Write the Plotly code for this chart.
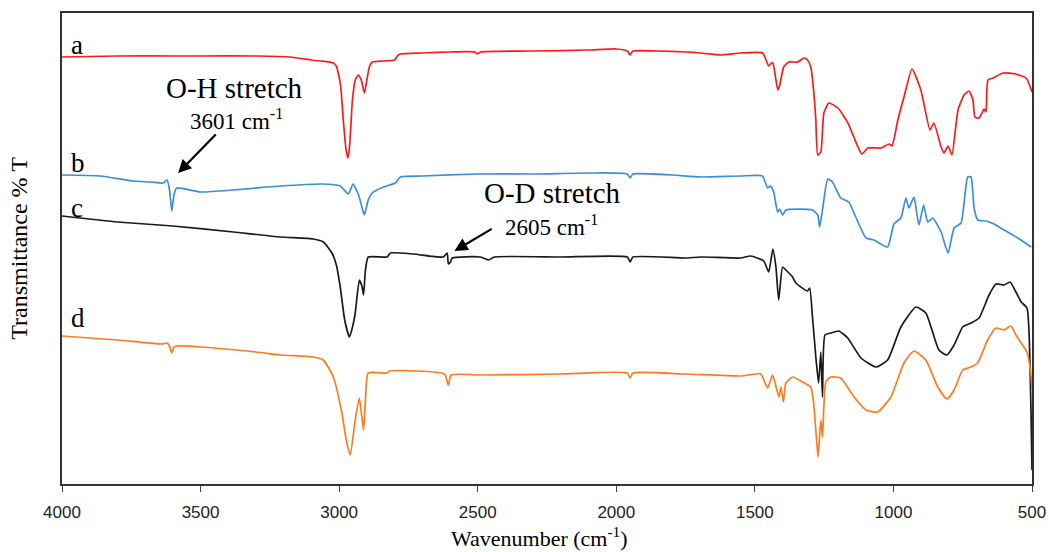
import plotly.graph_objects as go

# ---- data (wavenumber in cm^-1, transmittance in arbitrary offset units) ----
wn_a = [4000,3800,3600,3500,3300,3176,3100,3068,3021,3010,2995,2985,2975,2968,2962,2952,2942,2931,2920,2909,2900,2890,2880,2840,2800,2790,2779,2700,2600,2510,2501,2490,2300,2100,2000,1960,1950,1940,1850,1750,1695,1623,1551,1472,1450,1440,1435,1425,1417,1410,1396,1377,1345,1323,1310,1298,1285,1280,1273,1262,1251,1233,1200,1164,1143,1114,1092,1045,1016,1005,984,960,933,901,868,854,828,818,803,789,767,745,727,713,706,691,673,666,659,641,604,558,521,500]
t_a = [427,428,428,428,428,427,424,423,421,418,399,364,334,326,339,384,404,409,404,391,404,418,422,423,424,428,430,431,432,432,430,432,433,434,435,433,429,433,433,432,431,429,431,431,418,421,421,406,394,399,417,422,422,426,424,417,384,364,329,332,371,381,376,361,347,330,336,336,340,338,364,389,415,394,354,361,337,331,338,329,374,389,393,384,367,366,375,372,404,406,411,410,406,392]

wn_b = [4000,3863,3744,3680,3635,3621,3612,3604,3596,3586,3501,3382,3260,3212,3062,2996,2967,2950,2930,2915,2909,2895,2881,2840,2797,2779,2700,2502,2300,2100,1960,1950,1940,1800,1695,1551,1473,1454,1443,1432,1418,1410,1400,1388,1292,1273,1266,1256,1237,1220,1190,1161,1136,1099,1070,1021,998,973,955,944,926,908,891,876,858,828,803,781,756,742,732,720,709,696,666,637,601,551,503]
t_b = [309,308,303,302,301,304,294,273,289,296,292,294,297,298,300,298,290,300,289,274,269,284,291,297,301,307,308,310,310,311,310,306,310,309,307,308,308,296,298,292,272,275,269,274,274,269,257,274,305,302,286,282,267,246,244,237,260,266,286,276,287,259,279,262,266,252,231,256,261,289,307,307,276,264,263,260,254,246,237]

wn_c = [4000,3800,3600,3382,3212,3093,3057,3026,3010,2996,2980,2963,2950,2942,2927,2917,2912,2905,2895,2827,2815,2732,2624,2610,2606,2598,2592,2490,2461,2440,2200,1960,1950,1940,1750,1695,1551,1515,1468,1450,1435,1424,1414,1400,1388,1364,1352,1310,1302,1292,1280,1270,1262,1256,1247,1226,1197,1165,1117,1063,1021,973,919,883,836,807,781,750,720,691,655,630,601,579,558,539,518,511,503,500]
t_c = [268,262,258,252,247,245,242,231,219,197,164,147,159,171,204,197,189,214,227,227,231,230,227,231,220,222,226,227,224,227,227,227,222,227,226,227,226,228,223,212,235,217,184,217,214,207,201,193,196,167,127,101,132,87,149,151,153,146,126,117,124,157,177,171,134,129,139,157,161,166,189,200,199,202,192,182,176,154,64,14]

wn_d = [4000,3800,3640,3621,3612,3604,3596,3586,3500,3300,3212,3093,3057,3021,2990,2975,2960,2942,2927,2912,2905,2895,2827,2819,2620,2606,2596,2490,2200,1960,1950,1940,1750,1551,1479,1454,1436,1428,1413,1406,1397,1388,1364,1328,1298,1288,1280,1272,1262,1256,1244,1226,1190,1142,1099,1057,1009,962,926,883,840,807,781,750,720,696,660,630,601,576,558,539,518,503,500]
t_d = [148,144,140,141,138,131,137,138,137,132,129,127,124,107,71,45,29,64,86,54,84,111,111,113,110,99,109,109,110,111,106,111,110,108,110,96,109,102,87,97,82,101,107,102,97,81,54,27,64,47,102,107,106,87,74,72,87,121,133,124,97,85,94,114,117,121,144,156,154,158,149,141,132,107,94]

series_labels = ["a", "b", "c", "d"]
series_colors = ["#ff1a1a", "#3b8fd9", "#1a1a1a", "#ff7a1f"]
x_ticks = [4000, 3500, 3000, 2500, 2000, 1500, 1000, 500]

fig = go.Figure()
for wn, t, name, col in zip([wn_a, wn_b, wn_c, wn_d], [t_a, t_b, t_c, t_d], series_labels, series_colors):
    fig.add_trace(go.Scatter(x=wn, y=t, mode="lines", name=name,
                             line=dict(color=col, width=1.7, shape="spline", smoothing=0.5),
                             showlegend=False, hoverinfo="skip"))

serif = "Liberation Serif, Times New Roman, serif"

# series letters
label_pos = [(3975, 439), (3975, 321), (3975, 276), (3975, 166)]
for (lx, ly), lab in zip(label_pos, series_labels):
    fig.add_annotation(x=lx, y=ly, text=lab, showarrow=False, xanchor="left", yanchor="middle",
                       font=dict(family=serif, size=27, color="black"))

# peak annotations
fig.add_annotation(x=3379, y=396, text="O-H stretch", showarrow=False,
                   font=dict(family=serif, size=29, color="black"))
fig.add_annotation(x=3370, y=365, text="3601 cm<sup>-1</sup>", showarrow=False,
                   font=dict(family=serif, size=23, color="black"))
fig.add_annotation(x=3581, y=311, ax=3440, ay=351, axref="x", ayref="y", text="",
                   showarrow=True, arrowhead=2, arrowsize=1.2, arrowwidth=2.2, arrowcolor="black")

fig.add_annotation(x=2230, y=291, text="O-D stretch", showarrow=False,
                   font=dict(family=serif, size=29, color="black"))
fig.add_annotation(x=2234, y=259, text="2605 cm<sup>-1</sup>", showarrow=False,
                   font=dict(family=serif, size=23, color="black"))
fig.add_annotation(x=2584, y=233, ax=2444, ay=256, axref="x", ayref="y", text="",
                   showarrow=True, arrowhead=2, arrowsize=1.2, arrowwidth=2.2, arrowcolor="black")

# x-axis title as a free annotation so it sits just under the tick labels
fig.add_annotation(x=0.492, y=-0.1444, xref="paper", yref="paper", xanchor="center", yanchor="bottom",
                   text="Wavenumber (cm<sup>-1</sup>)", showarrow=False, borderpad=0,
                   font=dict(family=serif, size=22, color="black"))

fig.update_layout(
    width=1049, height=552,
    margin=dict(l=62, r=17, t=13, b=68),
    paper_bgcolor="white", plot_bgcolor="white",
    xaxis=dict(range=[4000, 500], tickvals=x_ticks, ticktext=[str(v) for v in x_ticks],
               ticks="outside", ticklen=6, tickcolor="#444", tickwidth=1, automargin=False,
               showgrid=False, zeroline=False, showline=True, linecolor="#333", linewidth=2, mirror=True,
               tickfont=dict(family="Liberation Sans, Arial, sans-serif", size=17, color="#222"),
               ticklabelstandoff=6),
    yaxis=dict(range=[0, 471], showticklabels=False, ticks="", showgrid=False, zeroline=False,
               automargin=False,
               showline=True, linecolor="#333", linewidth=2, mirror=True,
               title=dict(text="Transmittance % T", standoff=26,
                          font=dict(family=serif, size=24, color="black"))),
)

fig.write_html("out.html")
